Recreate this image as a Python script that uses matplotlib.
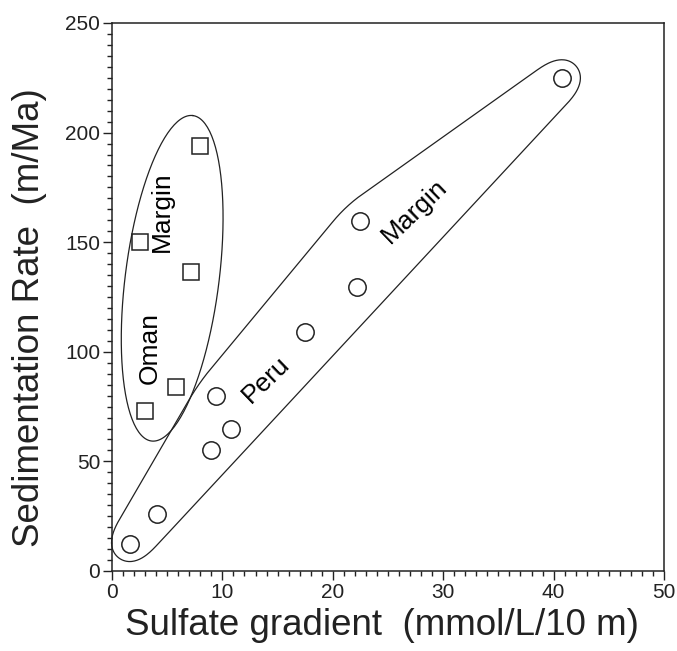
import numpy as np
import matplotlib
matplotlib.use("Agg")
import matplotlib.pyplot as plt
from matplotlib.ticker import MultipleLocator

plt.rcParams['font.family'] = ['Liberation Sans', 'DejaVu Sans']

# Peru Margin (circles)
peru_x = [1.6, 4.1, 9.0, 10.75, 9.4, 17.5, 22.2, 22.5, 40.8]
peru_y = [12.5, 26, 55, 65, 80, 109, 129.5, 159.5, 225]

# Oman Margin (squares)
oman_x = [3.0, 5.8, 2.5, 7.2, 8.0]
oman_y = [73, 84, 150, 136.5, 194]

xlabel = "Sulfate gradient  (mmol/L/10 m)"
ylabel = "Sedimentation Rate  (m/Ma)"


def convex_hull(pts):
    pts = sorted(map(tuple, pts))
    def cross(o, a, b):
        return (a[0]-o[0])*(b[1]-o[1]) - (a[1]-o[1])*(b[0]-o[0])
    lower, upper = [], []
    for p in pts:
        while len(lower) >= 2 and cross(lower[-2], lower[-1], p) <= 0:
            lower.pop()
        lower.append(p)
    for p in reversed(pts):
        while len(upper) >= 2 and cross(upper[-2], upper[-1], p) <= 0:
            upper.pop()
        upper.append(p)
    return np.array(lower[:-1] + upper[:-1])


def hull_outline(ax, xs, ys, r, smooth=60):
    # rounded hull around the points, built in pixel space, then smoothed
    px = ax.transData.transform(np.column_stack([xs, ys]))
    t = np.linspace(0, 2*np.pi, 90, endpoint=False)
    ring = np.column_stack([np.cos(t), np.sin(t)]) * r
    cloud = (px[:, None, :] + ring[None, :, :]).reshape(-1, 2)
    h = convex_hull(cloud)
    h = np.vstack([h, h[:1]])
    seg = np.hypot(*np.diff(h, axis=0).T)
    s = np.concatenate([[0], np.cumsum(seg)])
    n = int(s[-1])
    u = np.linspace(0, s[-1], n, endpoint=False)
    res = np.column_stack([np.interp(u, s, h[:, 0]), np.interp(u, s, h[:, 1])])
    k = np.ones(smooth) / smooth
    pad = np.vstack([res[-smooth:], res, res[:smooth]])
    sm = np.column_stack([np.convolve(pad[:, 0], k, 'same'),
                          np.convolve(pad[:, 1], k, 'same')])[smooth:-smooth]
    sm = np.vstack([sm, sm[:1]])
    d = ax.transData.inverted().transform(sm)
    ax.plot(d[:, 0], d[:, 1], color='#222222', lw=0.9, clip_on=False)


def ellipse_outline(ax, xs, ys, pad_a, pad_b):
    px = ax.transData.transform(np.column_stack([xs, ys]))
    m = px.mean(axis=0)
    w, v = np.linalg.eigh(np.cov((px - m).T))
    v1, v2 = v[:, 1], v[:, 0]
    p1 = (px - m) @ v1
    p2 = (px - m) @ v2
    c = m + v1 * (p1.max() + p1.min()) / 2
    a = (p1.max() - p1.min()) / 2 + pad_a
    b = np.abs(p2).max() + pad_b
    t = np.linspace(0, 2*np.pi, 200)
    pts = c + np.outer(a*np.cos(t), v1) + np.outer(b*np.sin(t), v2)
    d = ax.transData.inverted().transform(pts)
    ax.plot(d[:, 0], d[:, 1], color='#222222', lw=0.9, clip_on=False)


fig = plt.figure(figsize=(6.77, 6.51), dpi=100)
ax = fig.add_axes([0.1654, 0.1229, 0.8154, 0.8418])
ax.set_xlim(0, 50)
ax.set_ylim(0, 250)

ax.plot(peru_x, peru_y, 'o', ms=12.5, mfc='white', mec='#222222', mew=1.1)
ax.plot(oman_x, oman_y, 's', ms=11, mfc='white', mec='#222222', mew=1.1)

hull_outline(ax, peru_x, peru_y, 21, smooth=40)
ellipse_outline(ax, oman_x, oman_y, 29, 10)

ax.text(3.45, 101.7, "Oman", rotation=90, fontsize=19, ha='center', va='center')
ax.text(4.5, 163.8, "Margin", rotation=90, fontsize=19, ha='center', va='center')
ax.text(13.95, 87.1, "Peru", rotation=44, fontsize=19, ha='center', va='center')
ax.text(27.4, 164.2, "Margin", rotation=44, fontsize=19, ha='center', va='center')

ax.xaxis.set_major_locator(MultipleLocator(10))
ax.xaxis.set_minor_locator(MultipleLocator(1))
ax.yaxis.set_major_locator(MultipleLocator(50))
ax.yaxis.set_minor_locator(MultipleLocator(5))
ax.tick_params(which='both', direction='out', top=False, right=False,
               width=1.0, color='#222222')
ax.tick_params(which='major', length=6.5, labelsize=15, pad=2, labelcolor='#222222')
ax.tick_params(which='minor', length=3.6)
for s in ax.spines.values():
    s.set_linewidth(1.1)
    s.set_color('#222222')

ax.set_xlabel(xlabel, fontsize=26.5, color='#222222')
ax.set_ylabel(ylabel, fontsize=26.5, color='#222222')
ax.xaxis.set_label_coords(0.489, -0.099)
ax.xaxis.label.set_va('center')
ax.yaxis.set_label_coords(-0.149, 0.462)
ax.yaxis.label.set_va('center')

fig.savefig("out.png", dpi=100)
